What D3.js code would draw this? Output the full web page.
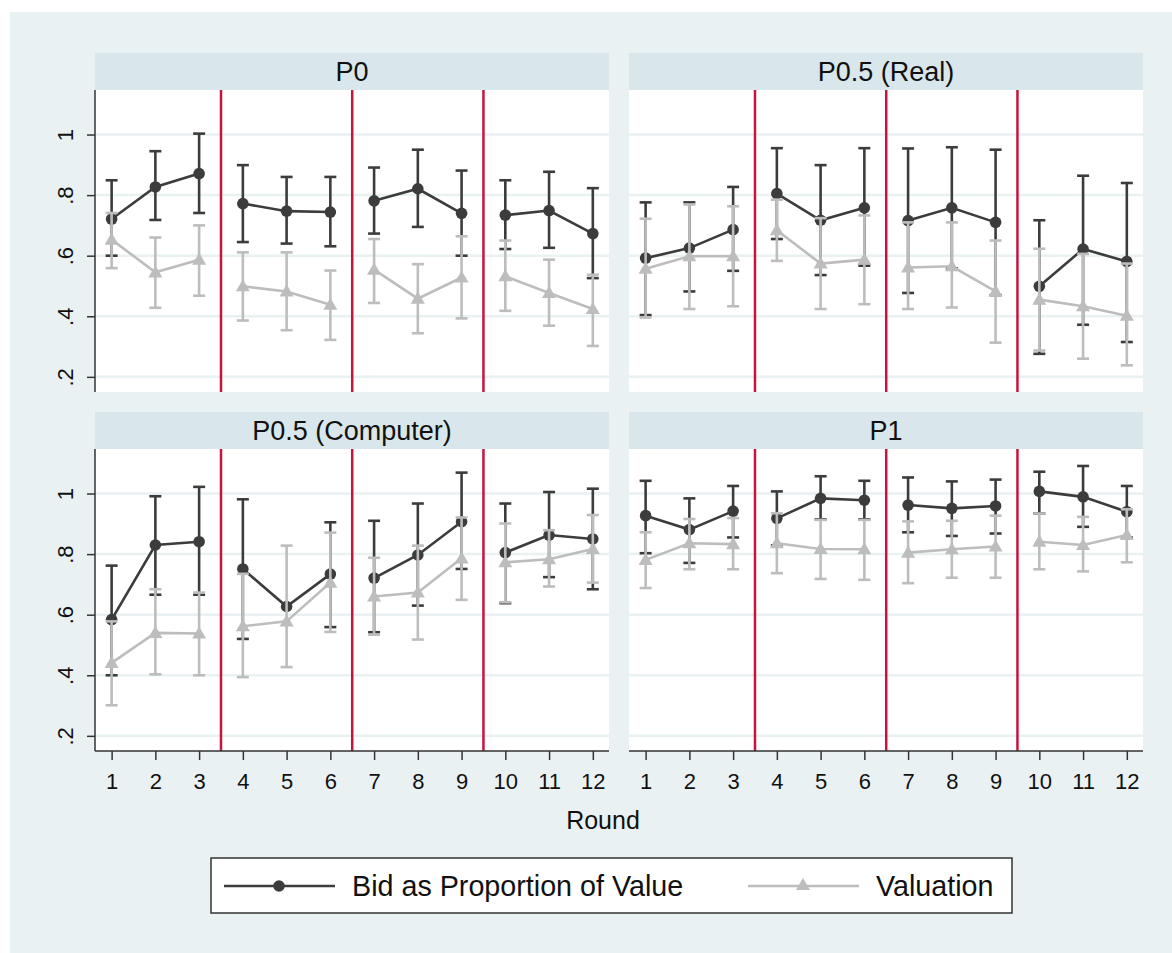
<!DOCTYPE html>
<html>
<head>
<meta charset="utf-8">
<script src="https://cdn.jsdelivr.net/npm/d3@7"></script>
<style>
  body { margin: 0; background: #ffffff; }
  svg text { font-family: "Liberation Sans", Arial, sans-serif; fill: #111; }
</style>
</head>
<body>
<div id="stage"></div>
<script>
// rounds and panel names
const rounds = [1, 2, 3, 4, 5, 6, 7, 8, 9, 10, 11, 12];
const panelNames = ['P0', 'P0.5 (Real)', 'P0.5 (Computer)', 'P1'];
const yTicks = [0.2, 0.4, 0.6, 0.8, 1];
const blockBreaks = [3.5, 6.5, 9.5];
const legendLabels = ['Bid as Proportion of Value', 'Valuation'];

// P0
const p0Bid   = [0.721, 0.827, 0.871, 0.772, 0.747, 0.744, 0.781, 0.821, 0.740, 0.734, 0.749, 0.673];
const p0BidLo = [0.600, 0.718, 0.741, 0.645, 0.640, 0.631, 0.673, 0.695, 0.600, 0.622, 0.626, 0.526];
const p0BidHi = [0.849, 0.945, 1.003, 0.899, 0.860, 0.860, 0.891, 0.950, 0.881, 0.849, 0.877, 0.823];
const p0Val   = [0.653, 0.545, 0.587, 0.499, 0.482, 0.438, 0.554, 0.458, 0.528, 0.532, 0.477, 0.424];
const p0ValLo = [0.559, 0.428, 0.468, 0.386, 0.354, 0.322, 0.444, 0.344, 0.393, 0.418, 0.369, 0.302];
const p0ValHi = [0.741, 0.660, 0.700, 0.611, 0.611, 0.551, 0.655, 0.572, 0.664, 0.650, 0.587, 0.537];

// P0.5 (Real)
const realBid   = [0.592, 0.625, 0.686, 0.805, 0.717, 0.758, 0.716, 0.758, 0.710, 0.499, 0.622, 0.581];
const realBidLo = [0.404, 0.482, 0.550, 0.655, 0.536, 0.567, 0.477, 0.558, 0.470, 0.276, 0.372, 0.315];
const realBidHi = [0.776, 0.776, 0.827, 0.955, 0.899, 0.955, 0.954, 0.958, 0.950, 0.717, 0.864, 0.840];
const realVal   = [0.557, 0.598, 0.598, 0.684, 0.574, 0.587, 0.561, 0.565, 0.482, 0.455, 0.433, 0.402];
const realValLo = [0.396, 0.424, 0.433, 0.583, 0.424, 0.440, 0.424, 0.429, 0.313, 0.287, 0.260, 0.238];
const realValHi = [0.722, 0.769, 0.763, 0.785, 0.724, 0.733, 0.710, 0.710, 0.650, 0.623, 0.606, 0.574];

// P0.5 (Computer)  (bid CI for round 5 is not visible in the original)
const compBid   = [0.584, 0.830, 0.841, 0.751, 0.627, 0.734, 0.721, 0.797, 0.907, 0.805, 0.863, 0.850];
const compBidLo = [0.400, 0.666, 0.666, 0.520, null, 0.559, 0.542, 0.630, 0.751, 0.638, 0.724, 0.684];
const compBidHi = [0.762, 0.991, 1.022, 0.981, null, 0.905, 0.910, 0.967, 1.069, 0.967, 1.005, 1.016];
const compVal   = [0.441, 0.540, 0.538, 0.562, 0.578, 0.706, 0.660, 0.673, 0.786, 0.773, 0.783, 0.817];
const compValLo = [0.301, 0.403, 0.400, 0.394, 0.427, 0.543, 0.534, 0.518, 0.649, 0.641, 0.693, 0.706];
const compValHi = [0.578, 0.684, 0.673, 0.735, 0.828, 0.871, 0.788, 0.828, 0.921, 0.901, 0.879, 0.929];

// P1
const p1Bid   = [0.927, 0.881, 0.942, 0.918, 0.984, 0.978, 0.962, 0.951, 0.959, 1.007, 0.989, 0.940];
const p1BidLo = [0.803, 0.771, 0.855, 0.829, 0.915, 0.915, 0.872, 0.860, 0.868, 0.934, 0.890, 0.855];
const p1BidHi = [1.042, 0.984, 1.025, 1.007, 1.057, 1.042, 1.053, 1.040, 1.046, 1.072, 1.091, 1.025];
const p1Val   = [0.781, 0.836, 0.833, 0.836, 0.817, 0.816, 0.805, 0.816, 0.825, 0.841, 0.830, 0.863];
const p1ValLo = [0.688, 0.750, 0.750, 0.737, 0.718, 0.715, 0.704, 0.722, 0.722, 0.750, 0.743, 0.773];
const p1ValHi = [0.872, 0.916, 0.919, 0.935, 0.913, 0.913, 0.908, 0.910, 0.927, 0.934, 0.923, 0.948];

const panelData = [
    {bid: p0Bid, bidLo: p0BidLo, bidHi: p0BidHi, val: p0Val, valLo: p0ValLo, valHi: p0ValHi},
    {bid: realBid, bidLo: realBidLo, bidHi: realBidHi, val: realVal, valLo: realValLo, valHi: realValHi},
    {bid: compBid, bidLo: compBidLo, bidHi: compBidHi, val: compVal, valLo: compValLo, valHi: compValHi},
    {bid: p1Bid, bidLo: p1BidLo, bidHi: p1BidHi, val: p1Val, valLo: p1ValLo, valHi: p1ValHi}
];

const width = 1172;
const height = 953;
const bgColor = '#eaf1f3';
const stripColor = '#d9e6eb';
const gridColor = '#e9f1f3';
const darkColor = '#3c3c3c';
const grayColor = '#bdbdbd';
const redColor = '#c8143c';

const svg = d3.select('#stage')
              .append('svg')
              .attr('width', width)
              .attr('height', height);

svg.append('rect')
   .attr('x', 10).attr('y', 12)
   .attr('width', width - 10).attr('height', height - 12)
   .attr('fill', bgColor);

// panel geometry
const plotW = 514;
const plotH = 302;
const stripH = 37;
const x = d3.scaleLinear().domain([0.62, 12.37]).range([0, plotW]);
const y = d3.scaleLinear().domain([0.15, 1.147]).range([plotH, 0]);

const fmtTick = d => d === 1 ? '1' : d3.format('.1f')(d).replace('0.', '.');

const triangle = d3.symbol().type(d3.symbolTriangle).size(85);

panelNames.forEach((name, i) => {
    const col = i % 2;
    const row = Math.floor(i / 2);
    const left = 95 + col * 534;
    const top = 53 + row * 359;
    const d = panelData[i];

    const g = svg.append('g').attr('transform', `translate(${left},${top})`);

    // strip
    g.append('rect')
     .attr('width', plotW).attr('height', stripH)
     .attr('fill', stripColor);
    g.append('text')
     .attr('x', plotW / 2).attr('y', stripH / 2 + 9.5)
     .attr('text-anchor', 'middle')
     .attr('font-size', 27)
     .text(name);

    const p = g.append('g').attr('transform', `translate(0,${stripH})`);
    p.append('rect')
     .attr('width', plotW).attr('height', plotH)
     .attr('fill', '#fff');

    // grid
    p.append('g').selectAll('line')
     .data(yTicks)
     .join('line')
     .attr('x1', 0).attr('x2', plotW)
     .attr('y1', v => y(v)).attr('y2', v => y(v))
     .attr('stroke', gridColor)
     .attr('stroke-width', 2.5);

    // block separators
    p.append('g').selectAll('line')
     .data(blockBreaks)
     .join('line')
     .attr('x1', v => x(v)).attr('x2', v => x(v))
     .attr('y1', 0).attr('y2', plotH)
     .attr('stroke', redColor)
     .attr('stroke-width', 2.5);

    // series drawn bid first, valuation on top
    const series = [
        {mean: d.bid, lo: d.bidLo, hi: d.bidHi, color: darkColor, marker: 'circle'},
        {mean: d.val, lo: d.valLo, hi: d.valHi, color: grayColor, marker: 'triangle'}
    ];

    series.forEach(s => {
        const pts = rounds.map((r, k) => ({r: r, m: s.mean[k], lo: s.lo[k], hi: s.hi[k]}));
        const ci = pts.filter(q => q.lo != null);
        const sg = p.append('g');

        sg.selectAll('.bar')
          .data(ci).join('line')
          .attr('x1', q => x(q.r)).attr('x2', q => x(q.r))
          .attr('y1', q => y(q.lo)).attr('y2', q => y(q.hi))
          .attr('stroke', s.color).attr('stroke-width', 2.6);
        sg.selectAll('.capHi')
          .data(ci).join('line')
          .attr('x1', q => x(q.r) - 6).attr('x2', q => x(q.r) + 6)
          .attr('y1', q => y(q.hi)).attr('y2', q => y(q.hi))
          .attr('stroke', s.color).attr('stroke-width', 2.6);
        sg.selectAll('.capLo')
          .data(ci).join('line')
          .attr('x1', q => x(q.r) - 6).attr('x2', q => x(q.r) + 6)
          .attr('y1', q => y(q.lo)).attr('y2', q => y(q.lo))
          .attr('stroke', s.color).attr('stroke-width', 2.6);

        // connect rounds within each block of three
        const line = d3.line().x(q => x(q.r)).y(q => y(q.m));
        const blocks = d3.groups(pts, q => Math.floor((q.r - 1) / 3)).map(b => b[1]);
        sg.selectAll('path.conn')
          .data(blocks).join('path')
          .attr('class', 'conn')
          .attr('d', line)
          .attr('fill', 'none')
          .attr('stroke', s.color)
          .attr('stroke-width', 2.6);

        if (s.marker === 'circle') {
            sg.selectAll('circle')
              .data(pts).join('circle')
              .attr('cx', q => x(q.r)).attr('cy', q => y(q.m))
              .attr('r', 5.8)
              .attr('fill', s.color);
        } else {
            sg.selectAll('path.mk')
              .data(pts).join('path')
              .attr('class', 'mk')
              .attr('transform', q => `translate(${x(q.r)},${y(q.m) + 1})`)
              .attr('d', triangle)
              .attr('fill', s.color);
        }
    });

    // y axis on left column
    if (col === 0) {
        const ya = p.append('g')
                    .call(d3.axisLeft(y).tickValues(yTicks).tickSize(8).tickFormat(fmtTick));
        ya.select('.domain').attr('stroke', '#333').attr('stroke-width', 1.5)
          .attr('d', `M0,0V${plotH}`);
        ya.selectAll('.tick line').attr('stroke', '#333').attr('stroke-width', 1.5);
        ya.selectAll('.tick text')
          .attr('font-size', 22)
          .attr('text-anchor', 'middle')
          .attr('x', null).attr('dy', null)
          .attr('transform', 'rotate(-90)')
          .attr('y', -22)
          .attr('fill', '#111');
    }

    // x axis on bottom row
    if (row === 1) {
        const xa = p.append('g')
                    .attr('transform', `translate(0,${plotH})`)
                    .call(d3.axisBottom(x).tickValues(rounds).tickSize(9).tickPadding(13).tickFormat(d3.format('d')));
        xa.select('.domain').attr('stroke', '#333').attr('stroke-width', 1.5)
          .attr('d', `M0,0H${plotW}`);
        xa.selectAll('.tick line').attr('stroke', '#333').attr('stroke-width', 1.5);
        xa.selectAll('.tick text').attr('font-size', 22).attr('fill', '#111');
    }
});

// axis title
svg.append('text')
   .attr('x', 603).attr('y', 829)
   .attr('text-anchor', 'middle')
   .attr('font-size', 25)
   .text('Round');

// legend
const lg = svg.append('g');
lg.append('rect')
  .attr('x', 211).attr('y', 858)
  .attr('width', 801).attr('height', 55)
  .attr('fill', '#fff')
  .attr('stroke', '#333')
  .attr('stroke-width', 1.5);

const legendItems = [
    {label: legendLabels[0], color: darkColor, marker: 'circle', x0: 224, tx: 352},
    {label: legendLabels[1], color: grayColor, marker: 'triangle', x0: 748, tx: 876}
];
const ly = 886;
legendItems.forEach(it => {
    lg.append('line')
      .attr('x1', it.x0).attr('x2', it.x0 + 111)
      .attr('y1', ly).attr('y2', ly)
      .attr('stroke', it.color).attr('stroke-width', 2.6);
    if (it.marker === 'circle') {
        lg.append('circle').attr('cx', it.x0 + 55).attr('cy', ly).attr('r', 5.8).attr('fill', it.color);
    } else {
        lg.append('path').attr('transform', `translate(${it.x0 + 55},${ly})`)
          .attr('d', triangle).attr('fill', it.color);
    }
    lg.append('text')
      .attr('x', it.tx).attr('y', ly + 10)
      .attr('font-size', 28.7)
      .text(it.label);
});
</script>
</body>
</html>
